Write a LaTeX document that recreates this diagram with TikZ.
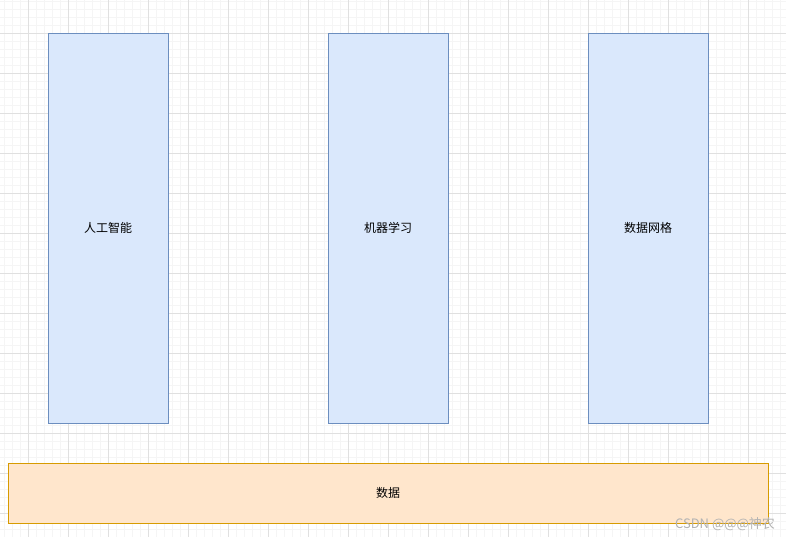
\documentclass[tikz,border=0pt]{standalone}
\usepackage{fontspec}
\newfontfamily\cjk{Noto Sans CJK SC}
\usepackage{tikz}
\definecolor{blueFill}{HTML}{DAE8FC}
\definecolor{blueLine}{HTML}{6C8EBF}
\definecolor{orangeFill}{HTML}{FFE6CC}
\definecolor{orangeLine}{HTML}{D79B00}
\tikzset{
     block/.style={draw=#1Line, fill=#1Fill, rectangle, inner sep=0pt, line width=0.9pt},
     column/.style={block=blue, minimum width=120, minimum height=390},
     base/.style={block=orange, minimum width=760, minimum height=60},
     minorgrid/.style={draw=black!4, line width=0.6pt},
     majorgrid/.style={draw=black!12, line width=0.8pt},
}

\begin{document}
\begin{tikzpicture}[x=1pt, y=-1pt, font=\cjk\fontsize{12}{14}\selectfont]
     \fill[white] (0,0) rectangle (786,537);
     \useasboundingbox (0,0) rectangle (786,537);

     % grid
     \foreach \x in {4,12,...,786}{
          \draw[minorgrid] (\x,0) -- (\x,537);
     }
     \foreach \y in {1,9,...,537}{
          \draw[minorgrid] (0,\y) -- (786,\y);
     }
     \foreach \x in {28,68,...,786}{
          \draw[majorgrid] (\x,0) -- (\x,537);
     }
     \foreach \y in {33,73,...,537}{
          \draw[majorgrid] (0,\y) -- (786,\y);
     }

     % columns
     \node[column] (ai) at (108,228) {人工智能};
     \node[column] (ml) at (388,228) {机器学习};
     \node[column] (grid) at (648,228) {数据网格};

     % base
     \node[base] (data) at (388,493) {数据};

     \node[text=black!30, anchor=base] (mark) at (725,528) {\fontsize{13}{15}\selectfont CSDN @@@神农};
\end{tikzpicture}
\end{document}
